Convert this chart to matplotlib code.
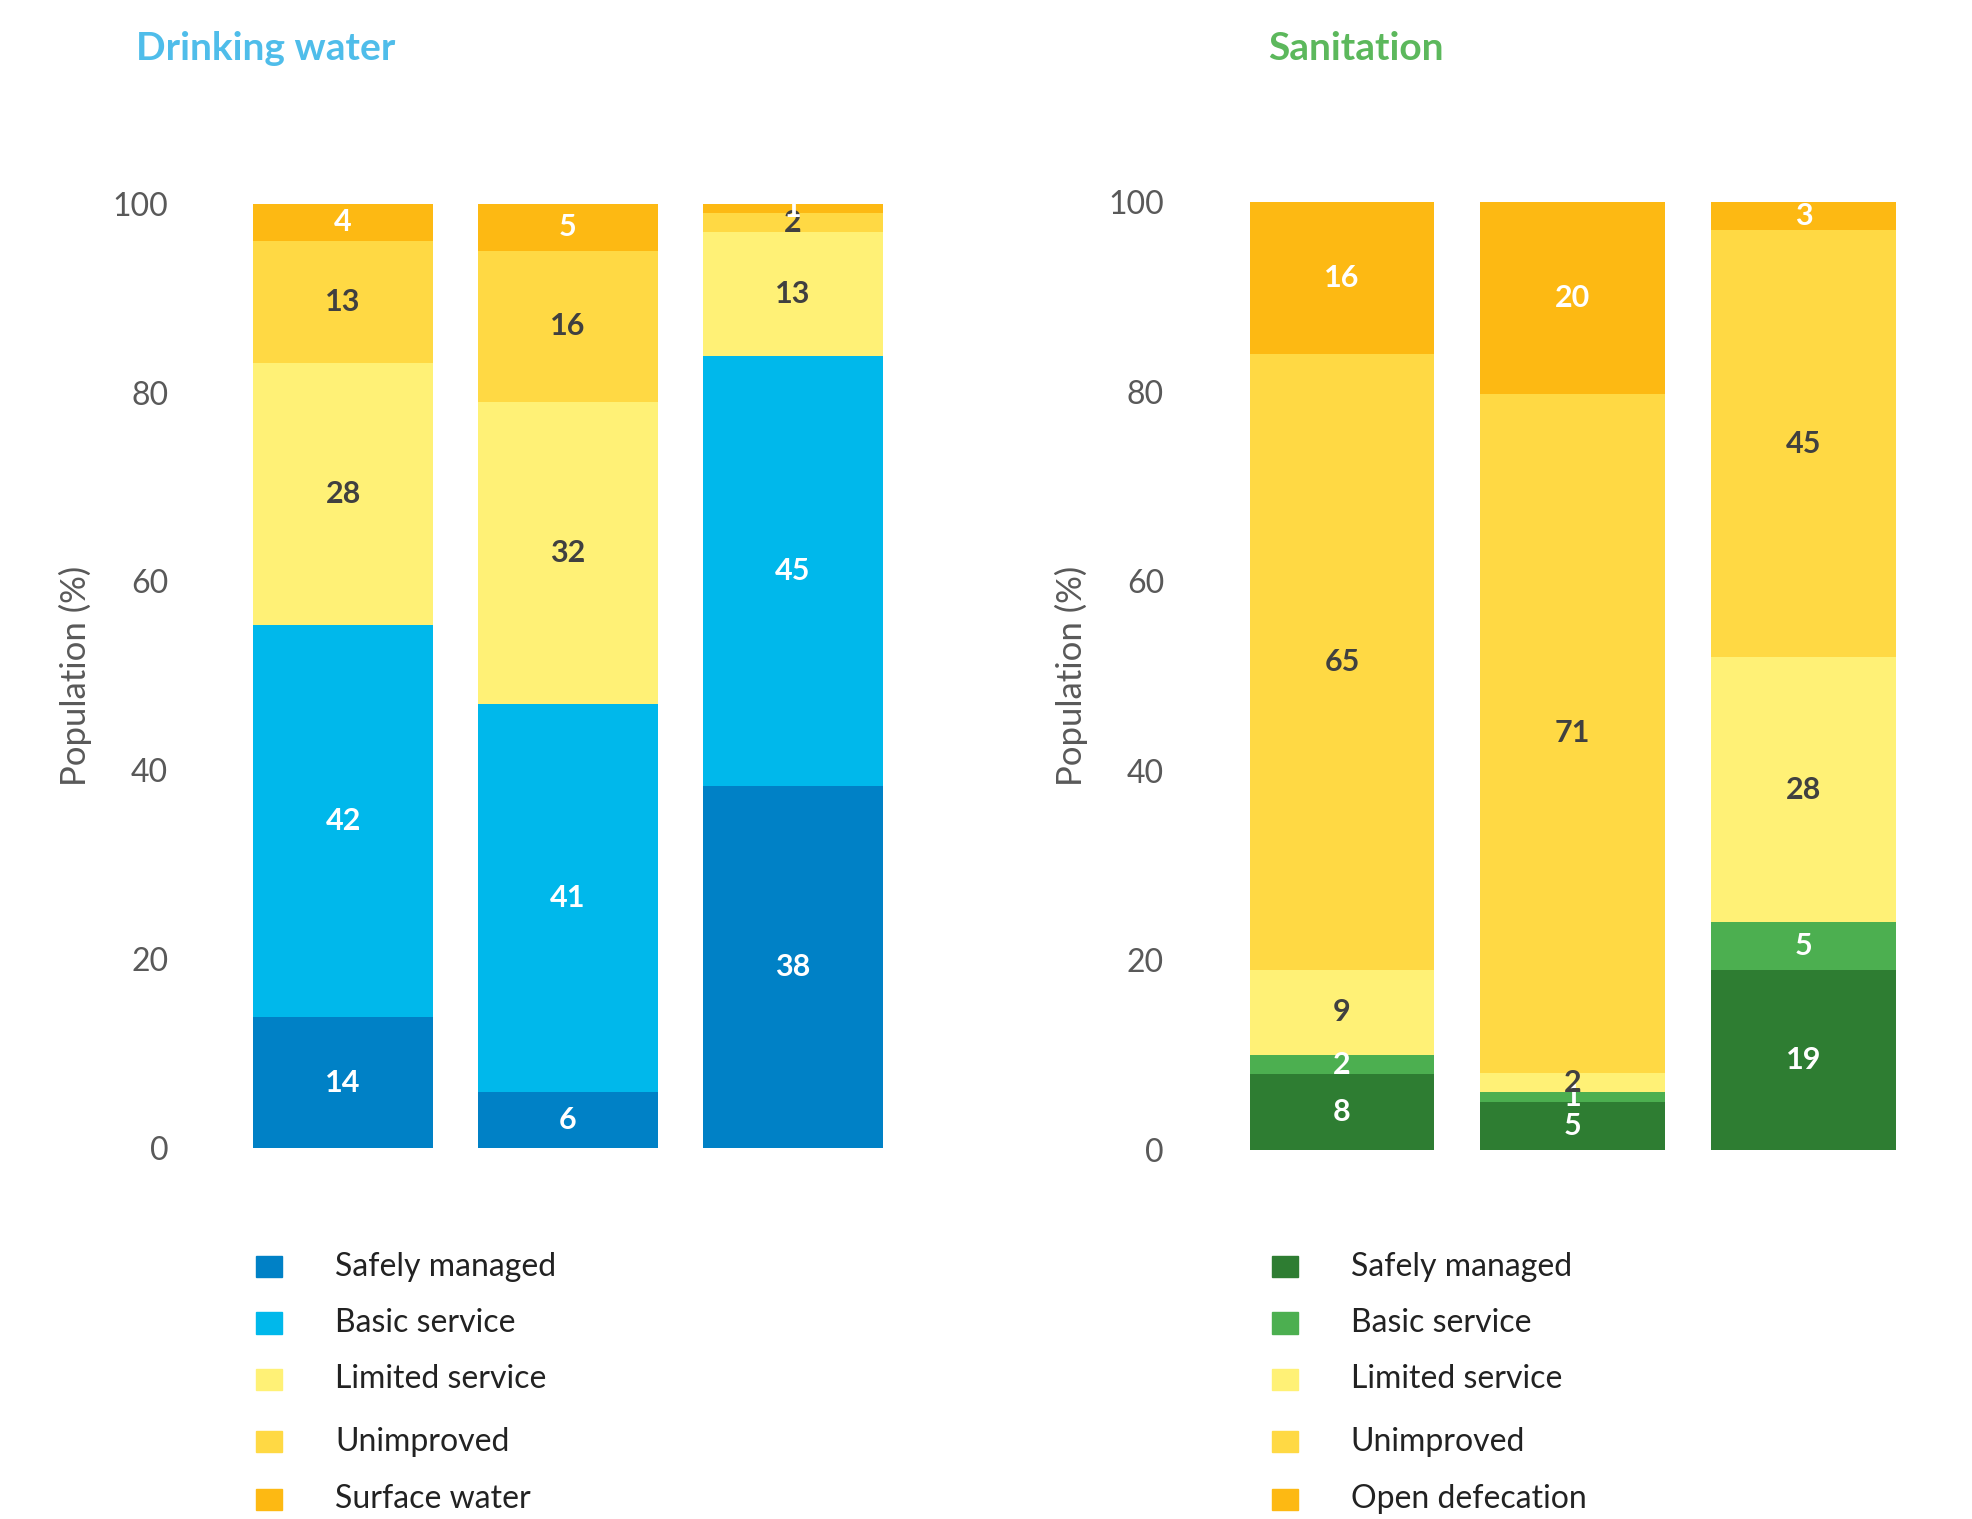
import matplotlib
matplotlib.use("Agg")
import matplotlib.pyplot as plt
from matplotlib.patches import Rectangle

plt.rcParams['font.family'] = ['Lato', 'DejaVu Sans']

# Drinking water (%), three bars
water_labels = ["Safely managed", "Basic service", "Limited service", "Unimproved", "Surface water"]
water_safely = [14, 6, 38]
water_basic = [42, 41, 45]
water_limited = [28, 32, 13]
water_unimproved = [13, 16, 2]
water_surface = [4, 5, 1]

# Sanitation (%), three bars
san_labels = ["Safely managed", "Basic service", "Limited service", "Unimproved", "Open defecation"]
san_safely = [8, 5, 19]
san_basic = [2, 1, 5]
san_limited = [9, 2, 28]
san_unimproved = [65, 71, 45]
san_open = [16, 20, 3]

water_colors = ['#0081C6', '#00B8EB', '#FFF176', '#FFD944', '#FDB913']
san_colors = ['#2E7D32', '#4CAF50', '#FFF176', '#FFD944', '#FDB913']
text_colors = ['white', 'white', '#404040', '#404040', 'white']

fig = plt.figure(figsize=(19.72, 15.19), dpi=100)


def draw_panel(rect, series, colors, title, title_color, title_x, labels, leg_x):
    ax = fig.add_axes(rect)
    xs = range(3)
    # rounded values do not always add to 100: stack them as shares of the total
    totals = [sum(col) for col in zip(*series)]
    bottoms = [0, 0, 0]
    for vals, col, tcol in zip(series, colors, text_colors):
        h = [v * 100 / t for v, t in zip(vals, totals)]
        ax.bar(xs, h, bottom=bottoms, width=0.8, color=col, linewidth=0)
        for x, v, hh, b in zip(xs, vals, h, bottoms):
            ax.text(x, b + hh / 2, str(v), ha='center', va='center', fontsize=22,
                    fontweight='bold', color=tcol)
        bottoms = [b + hh for b, hh in zip(bottoms, h)]
    ax.set_xlim(-0.5, 2.5)
    ax.set_ylim(0, 100)
    ax.set_yticks([0, 20, 40, 60, 80, 100])
    ax.tick_params(axis='y', length=0, labelsize=23, labelcolor='#595959', pad=45)
    ax.set_xticks([])
    for s in ax.spines.values():
        s.set_visible(False)
    ax.set_ylabel("Population (%)", fontsize=25, color='#595959', labelpad=15)
    fig.text(title_x, 0.968, title, fontsize=28, fontweight='bold', color=title_color,
             va='center')
    ys = [0.166, 0.129, 0.092, 0.051, 0.013]
    for y, lab, col in zip(ys, labels, colors):
        fig.patches.append(Rectangle((leg_x, y - 0.007), 0.013, 0.014,
                                     transform=fig.transFigure, color=col))
        fig.text(leg_x + 0.04, y, lab, fontsize=23, color='#222222', va='center')


draw_panel([0.117, 0.244, 0.342, 0.622],
           [water_safely, water_basic, water_limited, water_unimproved, water_surface],
           water_colors, "Drinking water", '#4FBDEA', 0.069, water_labels, 0.130)
draw_panel([0.622, 0.243, 0.351, 0.624],
           [san_safely, san_basic, san_limited, san_unimproved, san_open],
           san_colors, "Sanitation", '#5CB85C', 0.643, san_labels, 0.645)

fig.savefig("out.png", dpi=100)
